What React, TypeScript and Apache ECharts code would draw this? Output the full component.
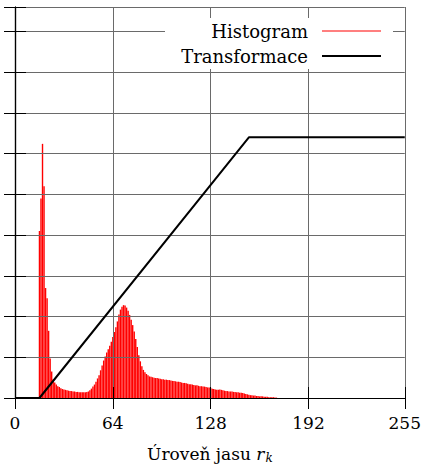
import React, { useEffect, useRef } from 'react';
import * as echarts from 'echarts';

// X axis (brightness level) range and tick labels
const X_MIN = 0;
const X_MAX = 255;
const X_INTERVAL = 64;
const X_TICK_LABELS = [0, 64, 128, 192, 255];

// Y axis (unlabelled) range
const Y_MIN = 0;
const Y_MAX = 9.6;
const Y_INTERVAL = 1;

// Histogram: first non-zero bin and the heights of bins from there on (others are 0)
const HIST_START = 16;
const HIST_VALUES = [
  4.1, 4.9, 6.24, 5.2, 2.7, 2.45, 1.65, 0.97, 0.65, 0.46,
  0.38, 0.33, 0.29, 0.27, 0.24, 0.22, 0.21, 0.2, 0.19, 0.18,
  0.17, 0.17, 0.16, 0.16, 0.15, 0.15, 0.14, 0.14, 0.14, 0.14,
  0.14, 0.15, 0.16, 0.19, 0.23, 0.28, 0.33, 0.4, 0.48, 0.56,
  0.68, 0.8, 0.92, 1.02, 1.12, 1.2, 1.28, 1.38, 1.5, 1.62,
  1.74, 1.88, 2.05, 2.17, 2.24, 2.28, 2.27, 2.22, 2.14, 2.04,
  1.92, 1.79, 1.63, 1.45, 1.25, 1.05, 0.9, 0.78, 0.69, 0.63,
  0.59, 0.56, 0.53, 0.52, 0.51, 0.5, 0.49, 0.49, 0.48, 0.47,
  0.46, 0.46, 0.45, 0.45, 0.44, 0.44, 0.43, 0.42, 0.42, 0.41,
  0.4, 0.4, 0.39, 0.38, 0.37, 0.37, 0.36, 0.35, 0.34, 0.34,
  0.33, 0.32, 0.31, 0.31, 0.3, 0.29, 0.29, 0.28, 0.28, 0.27,
  0.26, 0.26, 0.25, 0.23, 0.22, 0.21, 0.2, 0.2, 0.21, 0.2,
  0.19, 0.18, 0.17, 0.17, 0.16, 0.16, 0.16, 0.15, 0.15, 0.14,
  0.14, 0.13, 0.13, 0.12, 0.11, 0.1, 0.09, 0.08, 0.07, 0.07,
  0.06, 0.06, 0.05, 0.05, 0.04, 0.04, 0.04, 0.03, 0.03, 0.03,
  0.02, 0.02, 0.02, 0.02, 0.01, 0.01,
];
const NUM_BINS = 256;

// Transformation (piecewise linear) break points
const TRANSFORM_X = [0, 16, 153, 255];
const TRANSFORM_Y = [0, 0, 6.4, 6.4];

const SERIES_NAMES = ['Histogram', 'Transformace'];

const FONT = 'DejaVu Serif';

export default function App() {
  const ref = useRef<HTMLDivElement>(null);

  useEffect(() => {
    document.body.style.margin = '0';
    if (!ref.current) return;
    const chart = echarts.init(ref.current, undefined, { renderer: 'svg' });

    const histData: [number, number][] = [];
    for (let i = 0; i < NUM_BINS; i++) {
      const k = i - HIST_START;
      const v = k >= 0 && k < HIST_VALUES.length ? HIST_VALUES[k] : 0;
      histData.push([i, v]);
    }
    const transData = TRANSFORM_X.map((x, i) => [x, TRANSFORM_Y[i]]);

    const tickStyle = { show: true, inside: true, length: 11, lineStyle: { color: '#000', width: 1 } };
    const axisLine = { show: true, lineStyle: { color: '#000', width: 1.2 } };
    const splitLine = { show: true, lineStyle: { color: '#6a6a6a', width: 1 } };

    chart.setOption({
      animation: false,
      grid: { left: 15, right: 19, top: 7, bottom: 78, containLabel: false },
      xAxis: [
        {
          type: 'value',
          min: X_MIN,
          max: X_MAX,
          interval: X_INTERVAL,
          position: 'bottom',
          z: 2,
          axisLine,
          axisTick: tickStyle,
          splitLine,
          axisLabel: {
            show: true,
            margin: 16,
            fontFamily: FONT,
            fontSize: 17,
            color: '#000',
            formatter: (v: number) => (X_TICK_LABELS.includes(v) ? String(v) : ''),
          },
          name: '{a|Úroveň jasu }{b|r}{c|k}',
          nameLocation: 'middle',
          nameGap: 45,
          nameTextStyle: {
            rich: {
              a: { fontFamily: FONT, fontSize: 17, color: '#000' },
              b: { fontFamily: FONT, fontSize: 17, fontStyle: 'italic', color: '#000' },
              c: { fontFamily: FONT, fontSize: 12, fontStyle: 'italic', color: '#000', padding: [9, 0, 0, 1] },
            },
          },
        },
        {
          type: 'value',
          min: X_MIN,
          max: X_MAX,
          interval: X_INTERVAL,
          position: 'top',
          z: 2,
          axisLine,
          axisTick: tickStyle,
          splitLine: { show: false },
          axisLabel: { show: false },
        },
      ],
      yAxis: [
        {
          type: 'value',
          min: Y_MIN,
          max: Y_MAX,
          interval: Y_INTERVAL,
          position: 'left',
          z: 2,
          axisLine,
          axisTick: tickStyle,
          splitLine,
          axisLabel: { show: false },
        },
        {
          type: 'value',
          min: Y_MIN,
          max: Y_MAX,
          interval: Y_INTERVAL,
          position: 'right',
          z: 2,
          axisLine,
          axisTick: tickStyle,
          splitLine: { show: false },
          axisLabel: { show: false },
        },
      ],
      legend: [
        {
          data: [SERIES_NAMES[0]],
          align: 'right',
          right: 43,
          top: 22,
          padding: 0,
          itemWidth: 59,
          itemHeight: 1.2,
          icon: 'rect',
          z: 5,
          itemStyle: { borderWidth: 0 },
          textStyle: { fontFamily: FONT, fontSize: 18, color: '#000', padding: [0, 9, 0, 0] },
        },
        {
          data: [SERIES_NAMES[1]],
          align: 'right',
          right: 43,
          top: 47,
          padding: 0,
          itemWidth: 59,
          itemHeight: 2,
          icon: 'rect',
          z: 5,
          itemStyle: { borderWidth: 0 },
          textStyle: { fontFamily: FONT, fontSize: 18, color: '#000', padding: [0, 9, 0, 0] },
        },
      ],
      graphic: [
        {
          type: 'rect',
          z: 4,
          shape: { x: 165, y: 18, width: 228, height: 51 },
          style: { fill: '#fff' },
        },
      ],
      series: [
        {
          name: SERIES_NAMES[0],
          type: 'bar',
          xAxisIndex: 0,
          yAxisIndex: 0,
          data: histData,
          barWidth: 1.4,
          z: 1,
          itemStyle: { color: '#ff0000' },
        },
        {
          name: SERIES_NAMES[1],
          type: 'line',
          xAxisIndex: 0,
          yAxisIndex: 0,
          data: transData,
          symbol: 'none',
          z: 3,
          lineStyle: { color: '#000', width: 2 },
          itemStyle: { color: '#000' },
        },
      ],
    });

    return () => chart.dispose();
  }, []);

  return (
    <div
      ref={ref}
      style={{ position: 'absolute', left: 0, top: 0, width: 424, height: 476, background: '#fff' }}
    />
  );
}
